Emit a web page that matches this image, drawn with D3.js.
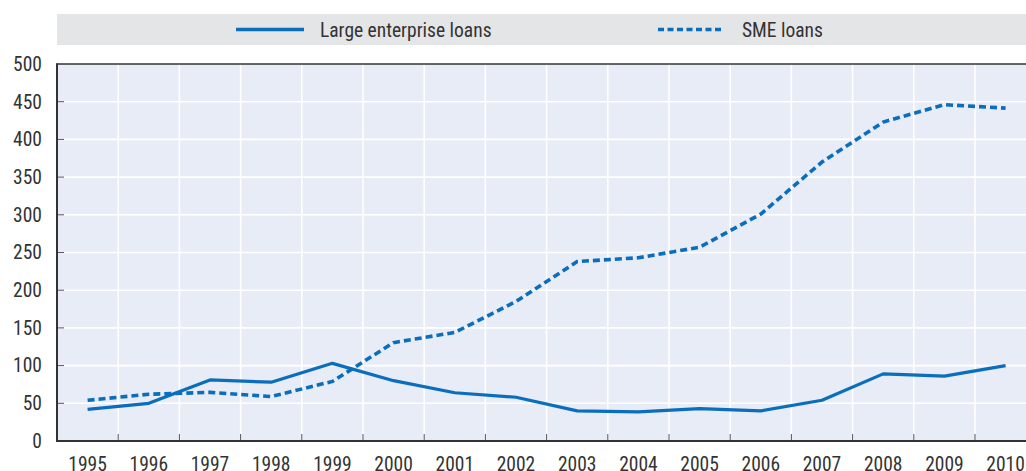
<!DOCTYPE html>
<html>
<head>
<meta charset="utf-8">
<script src="https://cdn.jsdelivr.net/npm/d3@7"></script>
<style>
  html, body { margin: 0; padding: 0; background: #fff; }
  svg { display: block; }
  text { font-family: "Liberation Sans Narrow", "Arial Narrow", "Roboto", sans-serif; font-stretch: condensed; fill: #333; }
</style>
</head>
<body>
<svg id="chart" width="1026" height="471"></svg>
<script>
// Loan volumes by firm size, 1995-2010
const years = ["1995","1996","1997","1998","1999","2000","2001","2002","2003","2004","2005","2006","2007","2008","2009","2010"];
const largeLoans = [42, 50, 81, 78, 103, 80, 64, 58, 40, 38.5, 43, 40, 54, 89, 86, 100];
const smeLoans = [54, 62, 64.5, 59, 79, 130.5, 144, 185, 238, 243, 257, 301, 370, 423, 446, 441.5];
const yTicks = [0, 50, 100, 150, 200, 250, 300, 350, 400, 450, 500];
const seriesNames = ["Large enterprise loans", "SME loans"];

const svg = d3.select("#chart");
const W = 1026, H = 471;
const plot = { left: 57, top: 64, bottom: 441 };
const bandW = 61.2;
const plotRight = plot.left + bandW * years.length;
const fontSize = 19.5;

const x = d3.scaleBand().domain(years).range([plot.left, plotRight]).padding(0);
const y = d3.scaleLinear().domain([0, 500]).range([plot.bottom, plot.top]);

const blue = "#0a6ebd";

// legend strip
svg.append("rect").attr("x", 57).attr("y", 14).attr("width", W - 57).attr("height", 31).attr("fill", "#e4e5e7");

const legend = [
  { name: seriesNames[0], x0: 236, x1: 304, tx: 320, dash: null },
  { name: seriesNames[1], x0: 658, x1: 721, tx: 742, dash: "6,3.5" }
];
legend.forEach(l => {
  svg.append("line").attr("x1", l.x0).attr("x2", l.x1).attr("y1", 29.5).attr("y2", 29.5)
    .attr("stroke", blue).attr("stroke-width", 3.5).attr("stroke-dasharray", l.dash);
  svg.append("text").attr("x", l.tx).attr("y", 30).attr("dy", "0.35em")
    .attr("font-size", fontSize).text(l.name);
});

// plot background
svg.append("rect").attr("x", plot.left).attr("y", plot.top)
  .attr("width", plotRight - plot.left).attr("height", plot.bottom - plot.top)
  .attr("fill", "#e8ecf6");

// horizontal grid
svg.append("g").selectAll("line").data(yTicks.slice(1, -1)).join("line")
  .attr("x1", plot.left).attr("x2", plotRight)
  .attr("y1", d => y(d)).attr("y2", d => y(d))
  .attr("stroke", "#fff").attr("stroke-width", 1.6);

// vertical grid at band boundaries
const bounds = years.slice(1).map(d => x(d));
svg.append("g").selectAll("line").data(bounds).join("line")
  .attr("x1", d => d).attr("x2", d => d)
  .attr("y1", plot.top).attr("y2", plot.bottom)
  .attr("stroke", "#fff").attr("stroke-width", 1.6);

// inward tick marks
svg.append("g").selectAll("line").data(yTicks.slice(1, -1)).join("line")
  .attr("x1", plot.left).attr("x2", plot.left + 7)
  .attr("y1", d => y(d)).attr("y2", d => y(d))
  .attr("stroke", "#555").attr("stroke-width", 1);
svg.append("g").selectAll("line").data(bounds).join("line")
  .attr("x1", d => d).attr("x2", d => d)
  .attr("y1", plot.bottom).attr("y2", plot.bottom - 7)
  .attr("stroke", "#555").attr("stroke-width", 1);

// frame lines
svg.append("line").attr("x1", plot.left).attr("x2", plotRight).attr("y1", plot.top).attr("y2", plot.top)
  .attr("stroke", "#333").attr("stroke-width", 1.5);
svg.append("line").attr("x1", plot.left).attr("x2", plotRight).attr("y1", plot.bottom).attr("y2", plot.bottom)
  .attr("stroke", "#333").attr("stroke-width", 2);
svg.append("line").attr("x1", plot.left).attr("x2", plot.left).attr("y1", plot.top - 0.75).attr("y2", plot.bottom + 1)
  .attr("stroke", "#333").attr("stroke-width", 2);

// axis labels
svg.append("g").selectAll("text").data(yTicks).join("text")
  .attr("x", 42).attr("y", d => y(d)).attr("dy", "0.35em")
  .attr("text-anchor", "end").attr("font-size", fontSize).text(d => d);
svg.append("g").selectAll("text").data(years).join("text")
  .attr("x", d => x(d) + x.bandwidth() / 2).attr("y", 464).attr("dy", "0.35em")
  .attr("text-anchor", "middle").attr("font-size", fontSize).text(d => d);

// series lines
const line = d3.line()
  .x((d, i) => x(years[i]) + x.bandwidth() / 2)
  .y(d => y(d));

svg.append("path").datum(largeLoans).attr("d", line)
  .attr("fill", "none").attr("stroke", blue).attr("stroke-width", 3.2)
  .attr("stroke-linejoin", "round");
svg.append("path").datum(smeLoans).attr("d", line)
  .attr("fill", "none").attr("stroke", blue).attr("stroke-width", 3.6)
  .attr("stroke-dasharray", "7,4");
</script>
</body>
</html>
